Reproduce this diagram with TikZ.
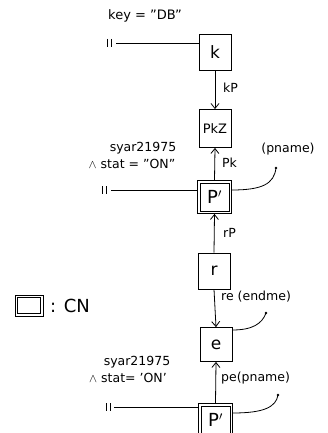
\documentclass[tikz,border=0pt]{standalone}
\usepackage{fontspec}
\setmainfont{DejaVu Sans}
\usetikzlibrary{arrows.meta,calc}
\begin{document}
\begin{tikzpicture}[x=1pt,y=-1pt,
  every node/.style={inner sep=0pt},
  ent/.style={draw,line width=0.8pt,minimum width=32pt,minimum height=36pt,font=\fontsize{17}{17}\selectfont},
  cnbox/.style={draw,line width=0.8pt,minimum width=34pt,minimum height=33pt,font=\fontsize{18}{18}\selectfont},
  inner/.style={line width=0.8pt},
  lbl/.style={font=\fontsize{12.5}{12.5}\selectfont},
  cond/.style={font=\fontsize{12.5}{12.5}\selectfont},
  rel/.style={line width=0.8pt,-{Straight Barb[length=5pt,width=8pt,line width=0.8pt]}},
  conn/.style={line width=0.8pt},
  endmark/.style={line width=0.8pt}]
\useasboundingbox (0,0) rectangle (327,433);
\fill[white] (0,0) rectangle (327,433);

% nodes
\node[ent] (k) at (215,52.5) {k};
\node[ent,minimum height=38pt,font=\fontsize{13}{13}\selectfont] (pk) at (215,128.5) {PkZ};
\node[cnbox] (p1) at (214.5,197) {P$'$};
\node[ent] (r) at (214,271) {r};
\node[ent,minimum height=34pt] (e) at (216,344.5) {e};
\node[cnbox] (p2) at (215.5,420) {P$'$};

% legend
\node[cnbox,minimum width=28pt,minimum height=21pt] (leg) at (29,305.5) {};
\node[font=\fontsize{18}{18}\selectfont,anchor=west] (legt) at (50,306) {: CN};

% inner frames of the CN boxes
\foreach \n in {p1,p2,leg}{
  \draw[inner] ($(\n.south west)+(3,-3)$) rectangle ($(\n.north east)+(-3,3)$);
}

% edges
\draw[rel] (k.south) -- (pk.north);
\draw[rel] (p1.north) -- (pk.south);
\draw[rel] (r.north) -- (p1.south);
\draw[rel] (r.south) -- (e.north);
\draw[rel] (p2.north) -- (e.south);

% edge labels
\node[lbl,anchor=west] (lkp) at (223,88) {kP};
\node[lbl,anchor=west] (lpk) at (222,163) {Pk};
\node[lbl,anchor=west] (lrp) at (223,233) {rP};
\node[lbl,anchor=west] (lre) at (221,297) {re (endme)};
\node[lbl,anchor=west] (lpe) at (221,378) {pe(pname)};
\node[lbl] (pn1) at (288,149) {(pname)};
\node[lbl,font=\fontsize{13}{13}\selectfont] (key) at (145,16) {key = "DB"};

% conditions
\node[cond] (c1a) at (143,148) {syar21975};
\node[cond] (c1b) at (132,164) {$\wedge$ stat = "ON"};
\node[cond] (c2a) at (137,362) {syar21975};
\node[cond] (c2b) at (128,378) {$\wedge$ stat= 'ON'};

% selection lines with end marks
\coordinate (s1) at (116,43);
\coordinate (s2) at (111,190);
\coordinate (s3) at (114,407);
\draw[conn] (s1) -- (k.west |- s1);
\draw[conn] (s2) -- (p1.west |- s2);
\draw[conn] (s3) -- (p2.west |- s3);
\foreach \c/\x/\y in {a/107/43,b/102/190,c/106/407}{
  \draw[endmark] (\x,\y-4) -- (\x,\y+4);
  \draw[endmark] (\x+4,\y-4) -- (\x+4,\y+4);
}

% projection curves
\coordinate (q1) at (276,168);
\coordinate (q2) at (266,313);
\coordinate (q3) at (278,395);
\draw[conn] (p1.east |- 0,190) .. controls (262,190) and (274,184) .. (q1);
\draw[conn] (e.east |- 0,330) .. controls (252,330) and (262,324) .. (q2);
\draw[conn] (p2.east |- 0,413) .. controls (264,413) and (276,407) .. (q3);
\fill (q1) circle (1.4pt);
\fill (q2) circle (1.4pt);
\fill (q3) circle (1.4pt);
\end{tikzpicture}
\end{document}
